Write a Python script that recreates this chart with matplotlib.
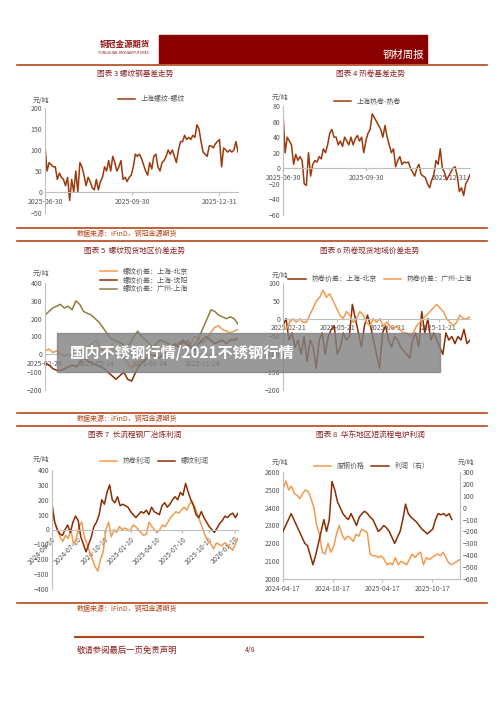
import numpy as np
import matplotlib.pyplot as plt
from matplotlib.patches import Rectangle

plt.rcParams['font.family'] = ['Noto Sans CJK SC', 'DejaVu Sans']

DARK = '#9C3A0C'
DEEP = '#8A2D04'
LIGHT = '#F39A4E'
OLIVE = '#8E7F3E'
RED = '#B5451B'
GRID = '#BFBFBF'
TXT = '#555555'

# chart 3
rebar_basis = [110, 50, 70, 65, 60, 60, 30, 45, 35, 30, 15, 35, -20, 30, 0, 50, 0, 70, 60, 40, 15, 35, 25, 10, 5,
               30, 5, 25, 35, 60, 50, 75, 50, 85, 70, 50, 60, 75, 30, 35, 25, 35, 40, 60, 90, 85, 90, 80, 65, 50,
               40, 70, 55, 85, 90, 60, 50, 70, 75, 85, 100, 90, 100, 85, 70, 100, 120, 120, 135, 125, 130, 125, 135,
               130, 160, 150, 120, 95, 90, 85, 110, 110, 105, 115, 120, 125, 60, 105, 100, 95, 100, 95, 100, 120, 95]
# chart 4
hc_basis = [71, 20, 40, 35, 30, 5, 18, 10, 15, 10, -20, -22, 20, -10, 5, 10, 8, 15, 12, 25, 20, 30, 45, 50, 40, 40,
            30, 35, 28, 40, 35, 30, 40, 30, 38, 42, 35, 40, 20, 35, 45, 50, 70, 65, 60, 55, 50, 40, 55, 40, 30, 20,
            25, 2, 10, 15, 5, 8, 7, 8, 0, -5, -10, 0, 5, -8, -10, -12, -20, -25, -15, -8, 10, 5, 25, 0, -5, -15,
            -10, -5, 0, 2, -10, -30, -25, -35, -20, -15, -8]
# chart 5
rb_sh_bj = [20, 30, 10, 20, 0, -10, 0, -10, 10, 20, 30, 40, 60, 80, 40, 20, 30, 40, 20, 0, -20, -50, -80, -60, -40,
            -20, 0, 20, 60, 80, 70, 60, 50, 40, 60, 80, 50, 60, 100, 90, 60, 80, 120, 150, 160, 140, 130, 120, 130, 140]
rb_sh_sy = [-50, -60, -80, -90, -90, -80, -70, -60, -70, -40, -20, -40, -50, -60, -70, -80, -100, -120, -140, -120,
            -100, -140, -150, -100, -60, -40, -20, 0, -10, -20, 0, 20, 40, 60, 40, 80, 60, 40, 20, 60, 80, 100, 80,
            60, 70, 80, 60, 80, 80, 90]
rb_gz_sh = [220, 240, 260, 270, 280, 260, 270, 250, 300, 280, 240, 230, 220, 200, 180, 150, 120, 90, 80, 70, 60, 40,
            60, 100, 130, 100, 80, 60, 40, 60, 80, 70, 60, 40, 50, 70, 60, 80, 40, 60, 100, 150, 200, 250, 240, 220,
            210, 200, 210, 200, 170]
# chart 6
hc_sh_bj = [-20, 0, -60, -40, -80, -60, -100, -50, -120, -60, -80, -140, -60, -40, -100, -50, -30, -20, -100, -80,
            -40, -60, -50, 40, 0, -40, -80, -20, 10, -20, -60, -100, -140, -40, -20, -60, -80, -50, -60, -80, -90,
            -100, -110, -60, -40, -80, 20, -40, 0, -60, -40, -60, -80, -100, -40, -60, -50, -70, -50, -60, -30, -70, -60]
hc_gz_sh = [-20, -30, -10, 0, -10, 0, -10, -10, 10, 30, 50, 60, 80, 60, 70, 50, 30, 10, 0, 20, 10, -10, 0, 20, 10,
            -10, -20, 0, -10, 0, -20, -10, -20, -30, -20, -30, -40, -40, -50, -40, -20, -10, 0, 10, 20, 30, 40, 30,
            20, 0, -10, -20, -10, 10, 0, 0, 5]
# chart 7
hc_profit = [170, 50, 0, -50, -80, -40, -60, 0, -100, -60, 20, 50, -50, -100, -150, -200, -250, -280, -200, -150, 0,
             50, -50, 0, -20, 20, 0, 10, 0, -10, 30, 20, 0, -20, -40, -30, 50, 20, 0, -20, 0, 30, 20, 50, 80, 100,
             120, 110, 130, 150, 130, 170, 190, 150, 100, 50, 0, -50, -80, -100, -130, -90, -100, -110, -90, -100,
             -120, -140, -100, -60]
rb_profit = [170, 50, 0, -30, -40, 0, 30, -20, 50, 90, 60, -50, -100, -150, -100, -50, 20, 50, 100, 200, 170, 250,
             300, 200, 180, 220, 160, 170, 160, 150, 120, 100, 80, 100, 120, 110, 130, 100, 150, 120, 110, 100, 160,
             180, 150, 170, 200, 220, 200, 250, 230, 310, 250, 200, 160, 100, 80, 120, 80, 50, 20, 0, -20, 10, 40,
             60, 90, 80, 100, 110, 80, 110]
# chart 8
scrap = [2500, 2550, 2500, 2520, 2480, 2470, 2450, 2480, 2500, 2490, 2450, 2400, 2300, 2250, 2150, 2140, 2200, 2150,
         2180, 2250, 2300, 2250, 2220, 2240, 2230, 2210, 2250, 2240, 2280, 2270, 2260, 2140, 2130, 2130, 2120, 2130,
         2110, 2080, 2090, 2080, 2120, 2080, 2100, 2090, 2080, 2110, 2140, 2120, 2140, 2150, 2080, 2120, 2110, 2120,
         2130, 2140, 2130, 2150, 2120, 2090, 2080, 2090, 2100, 2110]
eaf_profit = [-200, -150, -100, -50, -100, -150, -200, -250, -300, -320, -400, -480, -400, -300, -200, -100, -200,
              -100, 220, 150, 50, 0, -50, -80, -100, -50, -100, -150, -80, -50, -30, -50, -80, -100, -150, -200, -180,
              -150, -170, -200, -250, -300, -250, -200, -100, 30, -50, -80, -100, -120, -150, -180, -200, -220, -200,
              -180, -100, -50, -60, -50, -70, -50, -100]

W, H = 500, 707
fig = plt.figure(figsize=(5, 7.07), dpi=100)


def box(x0, y0, x1, y1):
    return [x0 / W, 1 - y1 / H, (x1 - x0) / W, (y1 - y0) / H]


def ftext(x, y, s, **kw):
    fig.text(x / W, 1 - y / H, s, **kw)


def hline(y, x0=17, x1=487, lw=1.2):
    fig.add_artist(plt.Line2D([x0 / W, x1 / W], [1 - y / H, 1 - y / H], color=RED, lw=lw))


def style(ax, ylim, yticks, zero=True):
    ax.set_ylim(*ylim)
    ax.set_yticks(yticks)
    for s in ['top', 'right']:
        ax.spines[s].set_visible(False)
    ax.spines['left'].set_color(GRID)
    ax.spines['bottom'].set_color(GRID)
    if zero:
        ax.spines['bottom'].set_position(('data', 0))
    ax.tick_params(labelsize=5, colors=TXT, length=0, pad=2)
    ax.tick_params(axis='x', length=2, color=GRID)


def xs(series, start, span):
    return np.linspace(start, start + span, len(series))


# header
fig.add_artist(Rectangle((159 / W, 1 - 63 / H), 268 / W, 28 / H, color='#8B0000', transform=fig.transFigure))
ftext(403, 55, '钢材周报', color='white', fontsize=7.5, ha='center', va='center')
ftext(100, 44, '铜冠金源期货', color='#8B1010', fontsize=6, weight='bold', va='center')
ftext(98, 53, 'TONGGUAN JINYUAN FUTURES', color='#8B1010', fontsize=2.5, va='center')
hline(65)

# chart 3
ftext(135, 74, '图表 3 螺纹钢基差走势', color='#8B2020', fontsize=5.5, ha='center', va='center')
ax = fig.add_axes(box(45, 108, 238, 213))
ax.plot(xs(rebar_basis, 0, 204), rebar_basis, color=DARK, lw=1.1, label='上海螺纹-螺纹')
style(ax, (-50, 200), range(-50, 201, 50))
ax.set_xlim(0, 204)
ax.set_xticks([0, 92, 184], ['2025-06-30', '2025-09-30', '2025-12-31'])
ax.legend(loc='upper center', bbox_to_anchor=(0.55, 1.18), frameon=False, fontsize=5, labelcolor=TXT, handlelength=2.5)
ftext(33, 101, '元/吨', fontsize=5, color=TXT, va='center')

# chart 4
ftext(370, 74, '图表 4 热卷基差走势', color='#8B2020', fontsize=5.5, ha='center', va='center')
ax = fig.add_axes(box(283, 106, 470, 215))
ax.plot(xs(hc_basis, 0, 207), hc_basis, color=DARK, lw=1.1, label='上海热卷-热卷')
style(ax, (-60, 80), range(-60, 81, 20))
ax.set_xlim(0, 207)
ax.set_xticks([0, 92, 184], ['2025-06-30', '2025-09-30', '2025-12-31'])
ax.legend(loc='upper center', bbox_to_anchor=(0.45, 1.14), frameon=False, fontsize=5, labelcolor=TXT, handlelength=2.5)
ftext(272, 98, '元/吨', fontsize=5, color=TXT, va='center')

hline(228)
ftext(77, 234, '数据来源：iFinD，铜冠金源期货', fontsize=5, color=RED, va='center')
hline(241)

# chart 5
ftext(135, 251, '图表 5  螺纹现货地区价差走势', color='#8B2020', fontsize=5.5, ha='center', va='center')
ax = fig.add_axes(box(45, 283, 238, 390))
ax.plot(xs(rb_sh_bj, 0, 335), rb_sh_bj, color=LIGHT, lw=1.1, label='螺纹价差：上海-北京')
ax.plot(xs(rb_sh_sy, 0, 335), rb_sh_sy, color=DEEP, lw=1.1, label='螺纹价差：上海-沈阳')
ax.plot(xs(rb_gz_sh, 0, 335), rb_gz_sh, color=OLIVE, lw=1.1, label='螺纹价差：广州-上海')
style(ax, (-200, 400), range(-200, 401, 100))
ax.set_xlim(0, 335)
ax.set_xticks([0, 89, 181, 273], ['2025-02-24', '2025-05-24', '2025-08-24', '2025-11-24'])
ax.legend(loc='upper left', bbox_to_anchor=(0.25, 1.2), frameon=False, fontsize=5, labelcolor=TXT,
          handlelength=2.5, labelspacing=0.1)
ftext(33, 274, '元/吨', fontsize=5, color=TXT, va='center')

# chart 6
ftext(370, 251, '图表 6 热卷现货地域价差走势', color='#8B2020', fontsize=5.5, ha='center', va='center')
ax = fig.add_axes(box(283, 283, 470, 390))
ax.plot(xs(hc_sh_bj, 0, 340), hc_sh_bj, color=DEEP, lw=1.1, label='热卷价差：上海-北京')
ax.plot(xs(hc_gz_sh, 0, 340), hc_gz_sh, color=LIGHT, lw=1.1, label='热卷价差：广州-上海')
style(ax, (-200, 100), range(-200, 101, 50))
ax.set_xlim(0, 340)
ax.set_xticks([10, 99, 191, 283], ['2025-02-21', '2025-05-21', '2025-08-21', '2025-11-21'])
ax.legend(loc='upper center', bbox_to_anchor=(0.52, 1.13), frameon=False, fontsize=5, labelcolor=TXT,
          handlelength=2.5, ncol=2, columnspacing=1)
ftext(272, 276, '元/吨', fontsize=5, color=TXT, va='center')

# watermark
fig.add_artist(Rectangle((57 / W, 1 - 372 / H), 383 / W, 39 / H, color='#808080', alpha=0.8,
                         transform=fig.transFigure))
ftext(70, 353, '国内不锈钢行情/2021不锈钢行情', color='white', fontsize=11, weight='bold', va='center')

hline(413)
ftext(77, 419, '数据来源：iFinD，铜冠金源期货', fontsize=5, color=RED, va='center')
hline(426)

# chart 7
ftext(135, 435, '图表 7  长流程钢厂冶炼利润', color='#8B2020', fontsize=5.5, ha='center', va='center')
ax = fig.add_axes(box(52, 470, 238, 589))
ax.plot(xs(hc_profit, 0, 650), hc_profit, color=LIGHT, lw=1.1, label='热卷利润')
ax.plot(xs(rb_profit, 0, 650), rb_profit, color=DEEP, lw=1.1, label='螺纹利润')
style(ax, (-400, 400), range(-400, 401, 100))
ax.set_xlim(0, 650)
ax.set_xticks([0, 91, 183, 275, 365, 456, 548, 640],
              ['2024-04-10', '2024-07-10', '2024-10-10', '2025-01-10', '2025-04-10', '2025-07-10',
               '2025-10-10', '2026-01-10'], rotation=45, ha='right', rotation_mode='anchor')
ax.legend(loc='upper center', bbox_to_anchor=(0.55, 1.16), frameon=False, fontsize=5, labelcolor=TXT,
          handlelength=2.5, ncol=2, columnspacing=1)
ftext(33, 460, '元/吨', fontsize=5, color=TXT, va='center')

# chart 8
ftext(370, 435, '图表 8  华东地区短流程电炉利润', color='#8B2020', fontsize=5.5, ha='center', va='center')
ax = fig.add_axes(box(283, 472, 460, 579))
l1, = ax.plot(xs(scrap, 0, 650), scrap, color=LIGHT, lw=1.1, label='废钢价格')
style(ax, (2000, 2600), range(2000, 2601, 100), zero=False)
ax.set_xlim(0, 650)
ax.set_xticks([0, 183, 365, 548], ['2024-04-17', '2024-10-17', '2025-04-17', '2025-10-17'])
ax2 = ax.twinx()
l2, = ax2.plot(xs(eaf_profit, 0, 620), eaf_profit, color=DEEP, lw=1.1, label='利润（右）')
ax2.set_ylim(-600, 300)
ax2.set_yticks(range(-600, 301, 100))
for s in ['top', 'left', 'bottom']:
    ax2.spines[s].set_visible(False)
ax2.spines['right'].set_color(GRID)
ax2.tick_params(labelsize=5, colors=TXT, length=0, pad=2)
ax.legend(handles=[l1, l2], loc='upper center', bbox_to_anchor=(0.5, 1.15), frameon=False, fontsize=5,
          labelcolor=TXT, handlelength=2.5, ncol=2, columnspacing=1)
ftext(272, 463, '元/吨', fontsize=5, color=TXT, va='center')
ftext(458, 463, '元/吨', fontsize=5, color=TXT, va='center')

hline(603)
ftext(77, 609, '数据来源：iFinD，铜冠金源期货', fontsize=5, color=RED, va='center')
hline(637, 75, 423, lw=1.5)
ftext(77, 650, '敬请参阅最后一页免责声明', fontsize=6, color='#8B2020', style='italic', va='center')
ftext(245, 650, '4/8', fontsize=5, color='#8B2020', va='center')

fig.savefig('out.png', dpi=100)
